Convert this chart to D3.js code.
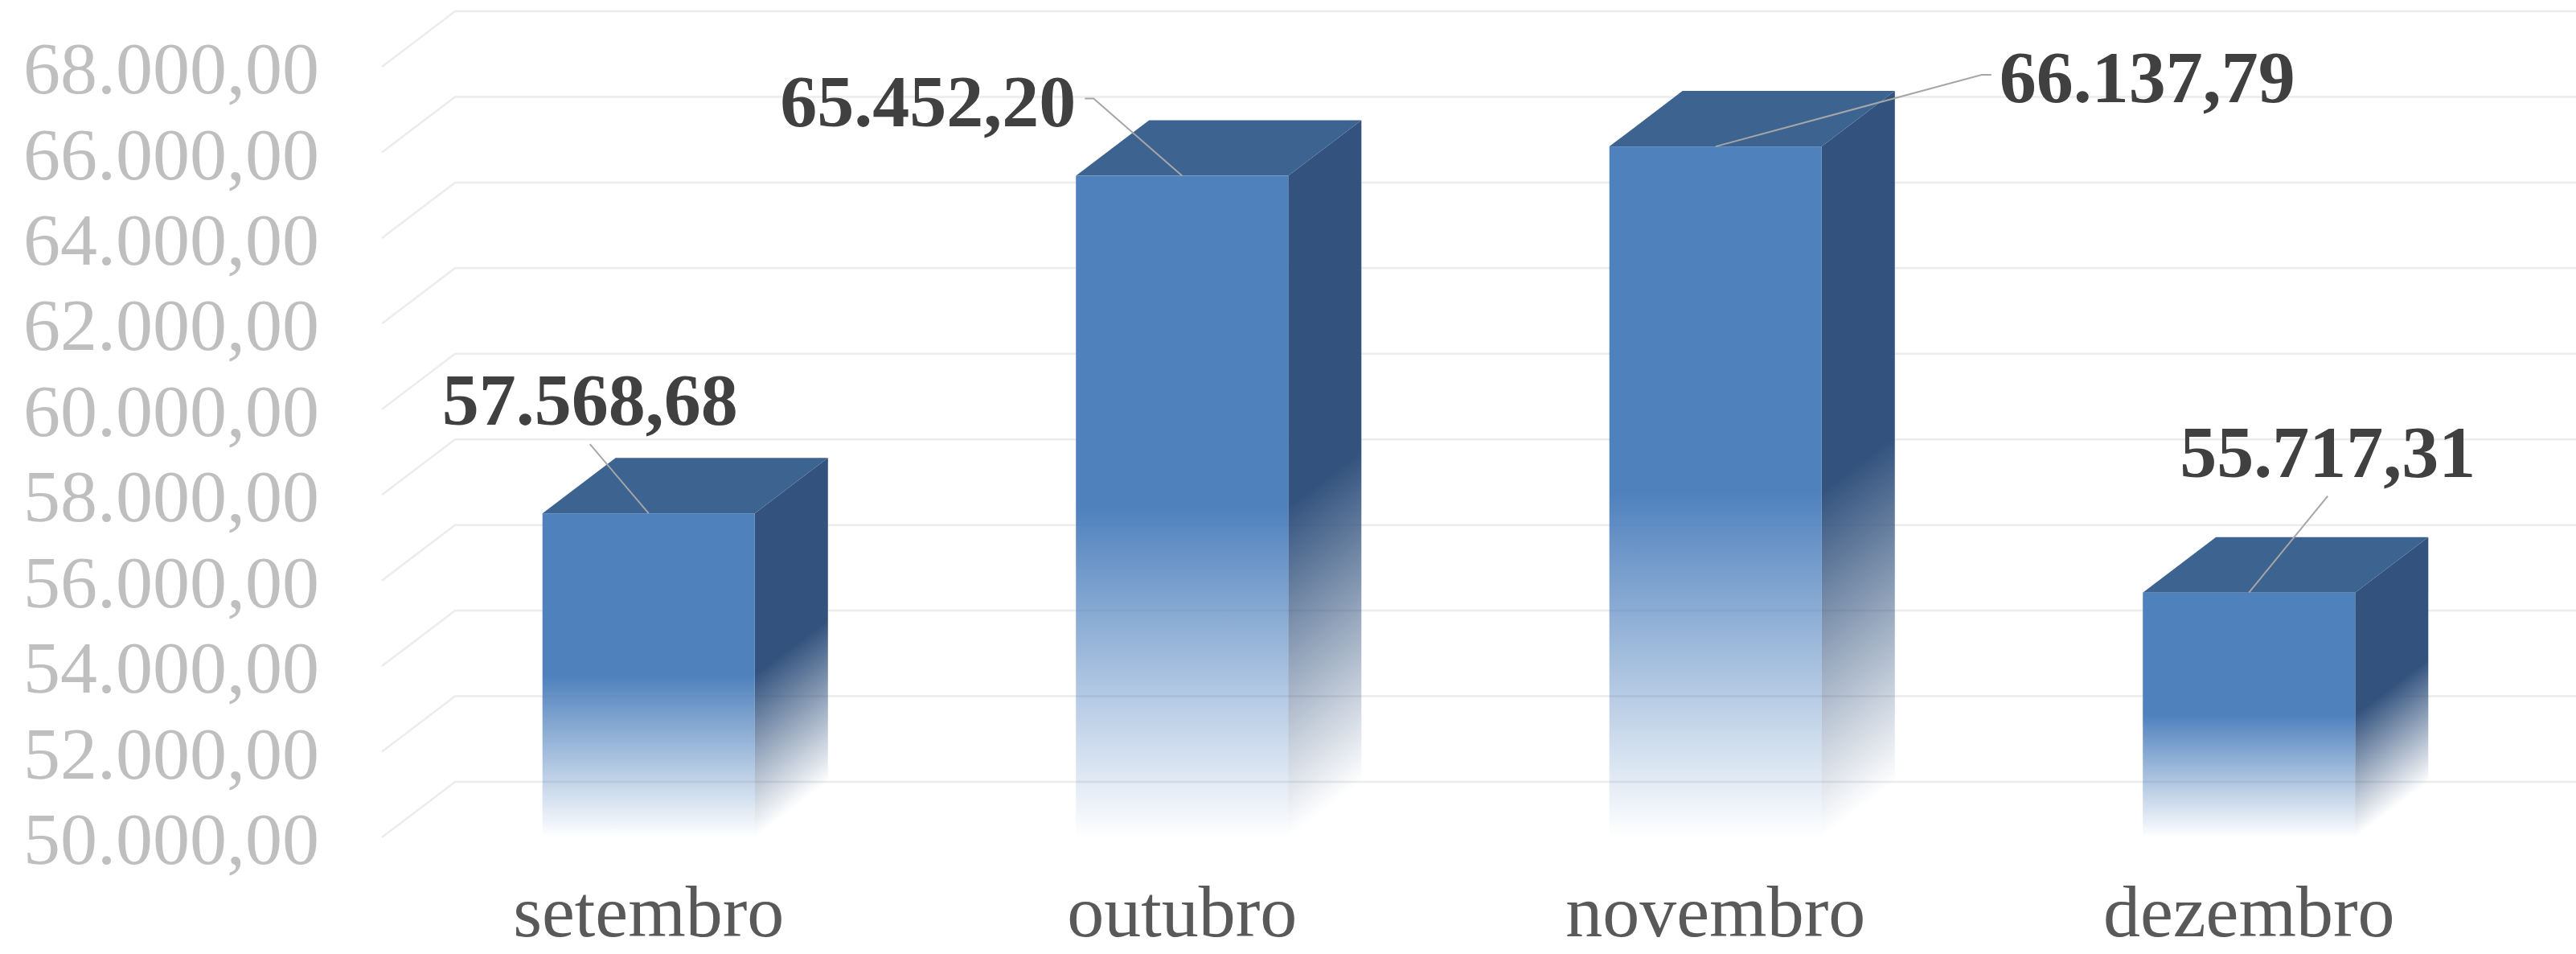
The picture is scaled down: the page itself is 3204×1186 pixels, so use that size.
<!DOCTYPE html>
<html>
<head>
<meta charset="utf-8">
<script src="https://cdn.jsdelivr.net/npm/d3@7"></script>
<style>
  html, body { margin: 0; padding: 0; background: #ffffff; }
  svg { display: block; }
</style>
</head>
<body>
<svg id="chart" width="3204" height="1186"></svg>
<script>
// ---------- data ----------
const categories = ["setembro", "outubro", "novembro", "dezembro"];
const values = [57568.68, 65452.20, 66137.79, 55717.31];
const yTicks = [50000, 52000, 54000, 56000, 58000, 60000, 62000, 64000, 66000, 68000];

// ---------- layout ----------
const W = 3204, H = 1186;
const plotLeft = 475, plotRight = 3129;   // front plane
const yBottom = 1041, yTop = 83;          // front plane
const DX = 91, DY = -69;                  // depth offset
const FS = 92;
// manual data-label offsets relative to bar front-top centre (layout only)
const labelOffsets = [
  {dx: -73, dy: -110},
  {dx: -316, dy: -62},
  {dx: 537, dy: -55},
  {dx: 98, dy: -144}
];

const FRONT = "#4F81BD", SIDE = "#33537E", TOP = "#3D6390";

const svg = d3.select("#chart");

const x = d3.scaleBand().domain(categories).range([plotLeft, plotRight])
  .paddingInner(0.602).paddingOuter(0.301);
const y = d3.scaleLinear().domain([50000, 68000]).range([yBottom, yTop]);

const ptBR = d3.formatLocale({decimal: ",", thousands: ".", grouping: [3], currency: ["R$", ""]});
const fmt = ptBR.format(",.2f");

// gradients
const defs = svg.append("defs");
function fadeGrad(id, color) {
  const g = defs.append("linearGradient").attr("id", id)
    .attr("x1", 0).attr("y1", 0).attr("x2", 0).attr("y2", 1);
  g.append("stop").attr("offset", 0).attr("stop-color", color).attr("stop-opacity", 1);
  g.append("stop").attr("offset", 0.5).attr("stop-color", color).attr("stop-opacity", 1);
  g.append("stop").attr("offset", 1).attr("stop-color", color).attr("stop-opacity", 0);
}
fadeGrad("gFront", FRONT);
fadeGrad("gSide", SIDE);

// ---------- gridlines (side wall diagonals + back wall horizontals) ----------
const grid = svg.append("g").attr("stroke", "#ececec").attr("stroke-width", 2.5).attr("fill", "none");
grid.selectAll("path").data(yTicks).join("path")
  .attr("d", d => `M${plotLeft},${y(d)}L${plotLeft + DX},${y(d) + DY}L${plotRight + DX + 10},${y(d) + DY}`);

// y-axis labels
svg.append("g").selectAll("text").data(yTicks).join("text")
  .attr("x", 397).attr("y", d => y(d)).attr("dy", "0.36em")
  .attr("text-anchor", "end")
  .attr("font-family", "'Liberation Serif', 'Times New Roman', serif")
  .attr("font-size", FS).attr("fill", "#bfbfbf")
  .text(d => fmt(d));

// ---------- bars ----------
const skewDeg = Math.atan2(DY, DX) * 180 / Math.PI;
const bars = svg.append("g").selectAll("g").data(categories).join("g");
bars.each(function(c, i) {
  const g = d3.select(this);
  const x0 = x(c), x1 = x(c) + x.bandwidth();
  const yt = y(values[i]), yb = y(50000);
  const h = yb - yt;
  // right side face (skewed)
  g.append("g").attr("transform", `translate(${x1},${yt}) skewY(${skewDeg})`)
    .append("rect").attr("x", 0).attr("y", 0).attr("width", DX).attr("height", h)
    .attr("fill", "url(#gSide)");
  // top face
  g.append("path")
    .attr("d", `M${x0},${yt}L${x0 + DX},${yt + DY}L${x1 + DX},${yt + DY}L${x1},${yt}Z`)
    .attr("fill", TOP);
  // front face
  g.append("rect").attr("x", x0).attr("y", yt).attr("width", x1 - x0).attr("height", h)
    .attr("fill", "url(#gFront)");
});

// ---------- data labels + leader lines ----------
const leaders = svg.append("g").attr("stroke", "#a6a6a6").attr("stroke-width", 2).attr("fill", "none");
const labels = svg.append("g");
categories.forEach((c, i) => {
  const bx = x(c) + x.bandwidth() / 2, by = y(values[i]);
  const lx = bx + labelOffsets[i].dx, ly = by + labelOffsets[i].dy;
  const t = labels.append("text")
    .attr("x", lx).attr("y", ly).attr("text-anchor", "middle")
    .attr("font-family", "'Liberation Serif', 'Times New Roman', serif")
    .attr("font-weight", "bold").attr("font-size", FS).attr("fill", "#404040")
    .text(fmt(values[i]));
  const w = t.node().getComputedTextLength();
  const left = lx - w / 2, right = lx + w / 2, mid = ly - 0.37 * FS;
  let d;
  if (bx >= left && bx <= right) {
    d = `M${lx},${ly + 24}L${bx},${by}`;
  } else if (bx > right) {
    d = `M${right + 11},${mid}L${right + 22},${mid}L${bx},${by}`;
  } else {
    d = `M${left - 10},${mid}L${left - 22},${mid}L${bx},${by}`;
  }
  leaders.append("path").attr("d", d);
});

// ---------- category labels ----------
svg.append("g").selectAll("text").data(categories).join("text")
  .attr("x", d => x(d) + x.bandwidth() / 2).attr("y", 1164)
  .attr("text-anchor", "middle")
  .attr("font-family", "'Liberation Serif', 'Times New Roman', serif")
  .attr("font-size", FS).attr("fill", "#595959")
  .text(d => d);
</script>
</body>
</html>
